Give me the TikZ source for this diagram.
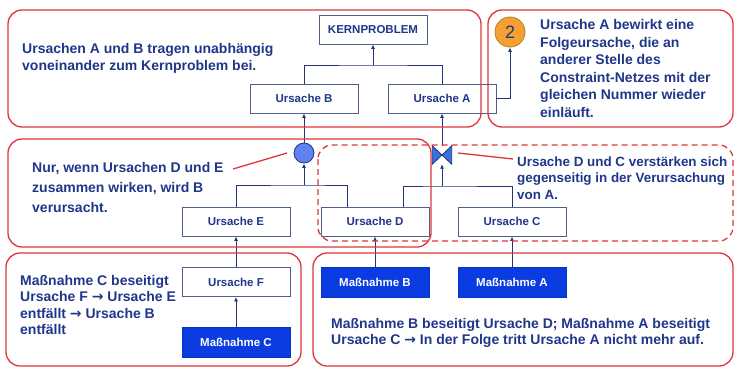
\documentclass[tikz,border=0pt]{standalone}
\usepackage{fontspec}
\setmainfont{Liberation Sans}
\newfontfamily\arrowfont{DejaVu Sans}
\newcommand{\rarr}{{\arrowfont →}}
\usetikzlibrary{arrows.meta}
\definecolor{navy}{RGB}{35,52,125}
\definecolor{txt}{RGB}{32,54,138}
\definecolor{frame}{RGB}{222,52,58}
\definecolor{boxline}{RGB}{78,96,140}
\definecolor{mblue}{RGB}{10,60,225}
\definecolor{orng}{RGB}{245,160,50}
\definecolor{circ}{RGB}{95,130,240}
\definecolor{bowfill}{RGB}{60,110,225}
\begin{document}
\begin{tikzpicture}[x=1pt,y=-1pt,
  redframe/.style={draw=frame, line width=1.3pt, rounded corners=14pt},
  pointer/.style={draw=frame, line width=1.3pt},
  ursache/.style={draw=boxline, line width=0.9pt, fill=white, minimum width=108pt, minimum height=29pt, inner sep=0pt, font=\fontsize{11.5}{13}\selectfont\bfseries, text=txt},
  massnahme/.style={draw=mblue!85!black, line width=0.6pt, fill=mblue, minimum width=108pt, minimum height=30pt, inner sep=0pt, font=\fontsize{11.5}{13}\selectfont\bfseries, text=white},
  conn/.style={draw=navy, line width=1pt},
  arr/.style={conn, -{Latex[length=4.5pt,width=4pt]}},
  note/.style={text=txt, align=left, anchor=base west, inner sep=0pt}
]
\useasboundingbox (0,0) rectangle (735,372);

% nodes
\node[ursache] (kern) at (373,29.5) {KERNPROBLEM};
\node[ursache] (ub) at (304,98.5) {Ursache B};
\node[ursache] (ua) at (442,98.5) {Ursache A};
\node[ursache] (ue) at (236,221.5) {Ursache E};
\node[ursache] (ud) at (375,221.5) {Ursache D};
\node[ursache] (uc) at (512,221.5) {Ursache C};
\node[ursache] (uf) at (236,282) {Ursache F};
\node[massnahme] (mc) at (236,342) {Maßnahme C};
\node[massnahme] (mb) at (375,282) {Maßnahme B};
\node[massnahme] (ma) at (512,282) {Maßnahme A};
\node[circle, draw=orng!75!black, line width=0.8pt, fill=orng, minimum size=30pt, inner sep=0pt, font=\fontsize{18}{18}\selectfont, text=navy] (two) at (510,32) {2};
\node[circle, draw=navy, line width=0.8pt, fill=circ, minimum size=20pt, inner sep=0pt] (andc) at (304,153) {};
\node[minimum width=19pt, minimum height=18pt, inner sep=0pt] (bt) at (442,155) {};
\draw[draw=navy, line width=0.8pt, fill=bowfill, line join=miter]
  (bt.north west) -- (bt.center) -- (bt.north east) -- (bt.south east) -- (bt.center) -- (bt.south west) -- cycle;

% connectors
\coordinate (jt) at (373,65);
\draw[conn] (ub.north) |- (jt) -| (ua.north);
\draw[arr] (jt) -- (kern.south);
\draw[arr] (ua.east) -| (two.south);
\draw[arr] (andc.north) -- (ub.south);
\draw[arr] (bt.north) -- (ua.south);
\coordinate (je) at (304,185);
\draw[conn] (ue.north) |- (je) -| ([xshift=-28pt]ud.north);
\draw[arr] (je) -- (andc.south);
\coordinate (jd) at (442,186);
\draw[conn] ([xshift=28pt]ud.north) |- (jd) -| (uc.north);
\draw[arr] (jd) -- (bt.south);
\draw[arr] (uf.north) -- (ue.south);
\draw[arr] (mc.north) -- (uf.south);
\draw[arr] (mb.north) -- (ud.south);
\draw[arr] (ma.north) -- (uc.south);

% texts (anchored at the baseline of the last line)
\begin{scope}[every node/.append style={font=\fontsize{14}{17.5}\selectfont\bfseries}]
\node[note] (t1) at (22,70.5) {Ursachen A und B tragen unabhängig\\voneinander zum Kernproblem bei.};
\node[note] (t2) at (540,117) {Ursache A bewirkt eine\\Folgeursache, die an\\anderer Stelle des\\Constraint-Netzes mit der\\gleichen Nummer wieder\\einläuft.};
\node[note, font=\fontsize{14}{20}\selectfont\bfseries] (t3) at (32,212) {Nur, wenn Ursachen D und E\\zusammen wirken, wird B\\verursacht.};
\node[note, font=\fontsize{13.4}{16.8}\selectfont\bfseries] (t4) at (517,199.6) {Ursache D und C verstärken sich\\gegenseitig in der Verursachung\\von A.};
\node[note, font=\fontsize{14}{16.5}\selectfont\bfseries] (t5) at (20,334.5) {Maßnahme C beseitigt\\Ursache F \rarr{} Ursache E\\entfällt \rarr{} Ursache B\\entfällt};
\node[note, font=\fontsize{14}{16.5}\selectfont\bfseries] (t6) at (331,344.5) {Maßnahme B beseitigt Ursache D; Maßnahme A beseitigt\\Ursache C \rarr{} In der Folge tritt Ursache A nicht mehr auf.};
\end{scope}

% frames
\draw[redframe] (8,10) rectangle (481,127);
\draw[redframe] (488,10) rectangle (733,127);
\draw[redframe] (8,139) rectangle (431,247);
\draw[redframe, dashed, dash pattern=on 6pt off 4pt] (318,145) rectangle (733,241);
\draw[redframe] (6,253) rectangle (301,366);
\draw[redframe] (313,253) rectangle (733,366);
\coordinate (p1) at (233,169);
\coordinate (p2) at (287,153);
\draw[pointer] (p1) -- (p2);
\coordinate (p3) at (458,153);
\coordinate (p4) at (513,159);
\draw[pointer] (p3) -- (p4);
\end{tikzpicture}
\end{document}
